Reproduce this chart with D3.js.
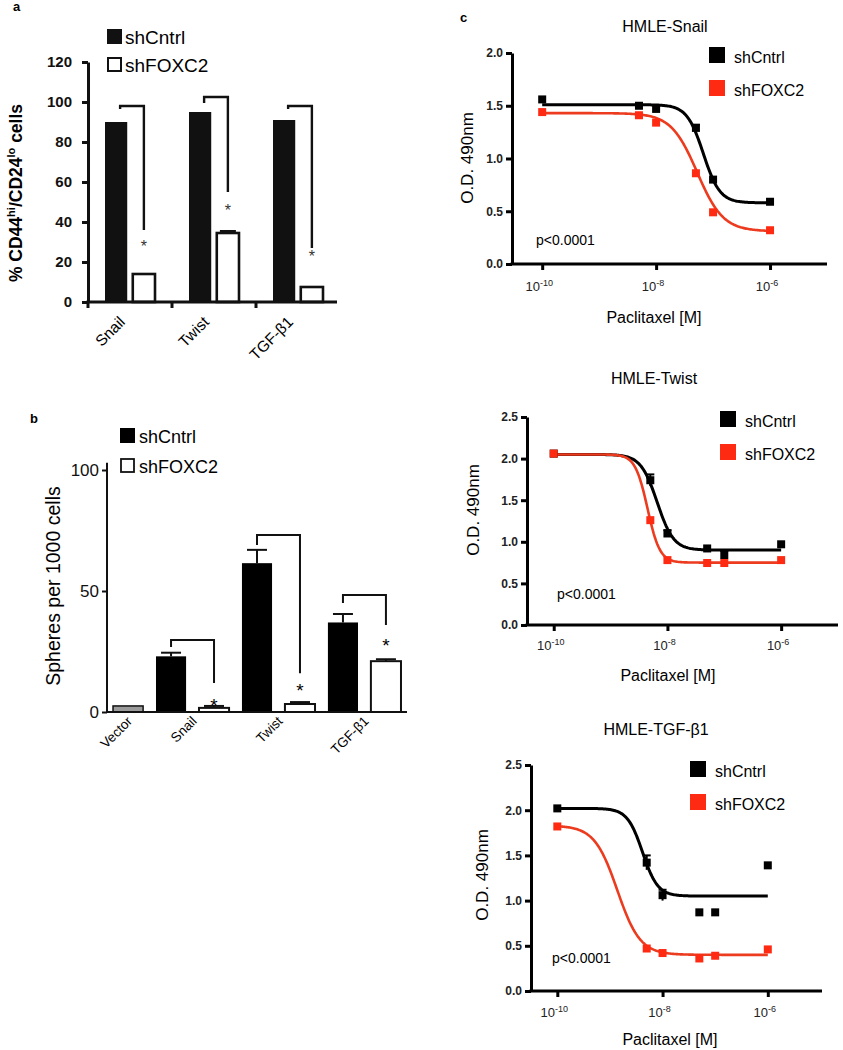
<!DOCTYPE html>
<html><head><meta charset="utf-8">
<script src="https://cdn.jsdelivr.net/npm/d3@7/dist/d3.min.js"></script>
<style>body{margin:0;background:#fff}svg{display:block}</style>
</head><body>
<svg id="fig" width="843" height="1050"></svg>
<script>
// ---------- Panel a data ----------
const aCategories = ['Snail', 'Twist', 'TGF-β1'];
const aSeries = ['shCntrl', 'shFOXC2'];
const aCntrl = [90, 95, 91];
const aFoxc2 = [14, 34.5, 7.5];
const aFoxc2Err = [0, 1, 0];
const aTicks = [0, 20, 40, 60, 80, 100, 120];
const aBracketTop = [98, 102.5, 98];
const aBracketLeftEnd = [96.5, 99.5, 96.5];
const aBracketRightEnd = [36, 55, 27];
const aStarY = [29.5, 47.5, 24.5];

// ---------- Panel b data ----------
const bCategories = ['Vector', 'Snail', 'Twist', 'TGF-β1'];
const bCntrl = [2.5, 23, 61.5, 37];
const bCntrlErr = [0, 1.5, 5.5, 3.5];
const bFoxc2 = [null, 1.7, 3.3, 21];
const bFoxc2Err = [null, 0.8, 0.8, 0.8];
const bTicks = [0, 50, 100];
const bBracketTop = [29.8, 73.1, 48.3];
const bBracketLeftEnd = [26.9, 69, 45];
const bBracketRightEnd = [12, 16, 36];
const bStarY = [4.1, 10.3, 28.9];

// ---------- Panel c data ----------
const cConc = [1e-10, 5e-9, 1e-8, 5e-8, 1e-7, 1e-6];
const cXTicks = [1e-10, 1e-8, 1e-6];
const cXTickExp = ['-10', '-8', '-6'];
const snailCntrl = [1.56, 1.50, 1.47, 1.29, 0.80, 0.59];
const snailFoxc2 = [1.44, 1.41, 1.34, 0.86, 0.49, 0.32];
const twistCntrl = [2.06, 1.74, 1.10, 0.92, 0.84, 0.97];
const twistFoxc2 = [2.06, 1.26, 0.78, 0.745, 0.745, 0.78];
const tgfCntrl = [2.02, 1.42, 1.06, 0.87, 0.87, 1.39];
const tgfFoxc2 = [1.82, 0.47, 0.42, 0.36, 0.39, 0.46];
const snailCntrlErr = [0, 0, 0, 0.03, 0, 0];
const snailFoxc2Err = [0, 0, 0, 0, 0, 0];
const twistCntrlErr = [0, 0.07, 0.04, 0, 0.05, 0];
const twistFoxc2Err = [0, 0, 0, 0, 0, 0];
const tgfCntrlErr = [0, 0.08, 0.06, 0, 0, 0];
const tgfFoxc2Err = [0, 0, 0, 0, 0, 0];
// fitted sigmoid parameters: [top, bottom, logEC50, hill]
const snailFitCntrl = [1.51, 0.58, -7.17, 3.0];
const snailFitFoxc2 = [1.43, 0.31, -7.28, 1.9];
const twistFitCntrl = [2.05, 0.90, -8.18, 3.0];
const twistFitFoxc2 = [2.05, 0.75, -8.35, 4.0];
const tgfFitCntrl = [2.02, 1.05, -8.38, 3.0];
const tgfFitFoxc2 = [1.83, 0.40, -8.86, 2.0];
const cYTicksA = [0, 0.5, 1.0, 1.5, 2.0];
const cYTicksB = [0, 0.5, 1.0, 1.5, 2.0, 2.5];

const FONT = '"Liberation Sans", Arial, sans-serif';
const svg = d3.select('#fig');

function txt(g, x, y, s, size, opts = {}) {
  return g.append('text').attr('x', x).attr('y', y).text(s)
    .attr('font-family', opts.family || FONT).attr('font-size', size)
    .attr('font-weight', opts.weight || 'normal')
    .attr('text-anchor', opts.anchor || 'start')
    .attr('fill', opts.fill || '#000');
}

// ================= PANEL A =================
(function () {
  const g = svg.append('g');
  txt(g, 13, 11, 'a', 13, { weight: 'bold' });
  const y = d3.scaleLinear().domain([0, 120]).range([302, 62]);
  const x = d3.scaleBand().domain(aCategories).range([88, 340]);
  const xi = d3.scaleBand().domain(aSeries).range([17, 67]).paddingInner(0.2);

  aCategories.forEach((c, i) => {
    g.append('rect').attr('x', x(c) + xi('shCntrl')).attr('width', xi.bandwidth())
      .attr('y', y(aCntrl[i])).attr('height', y(0) - y(aCntrl[i])).attr('fill', '#111');
    g.append('rect').attr('x', x(c) + xi('shFOXC2')).attr('width', xi.bandwidth())
      .attr('y', y(aFoxc2[i])).attr('height', y(0) - y(aFoxc2[i]))
      .attr('fill', '#fff').attr('stroke', '#111').attr('stroke-width', 2.6);
    if (aFoxc2Err[i] > 0) {
      const cx = x(c) + xi('shFOXC2') + xi.bandwidth() / 2;
      g.append('line').attr('x1', cx - 8).attr('x2', cx + 8)
        .attr('y1', y(aFoxc2[i] + aFoxc2Err[i])).attr('y2', y(aFoxc2[i] + aFoxc2Err[i]))
        .attr('stroke', '#111').attr('stroke-width', 2);
    }
    const lx = x(c) + xi('shCntrl') + xi.bandwidth() / 2 + 4;
    const rx = x(c) + xi('shFOXC2') + xi.bandwidth() / 2;
    g.append('path').attr('d', `M${lx},${y(aBracketLeftEnd[i])}V${y(aBracketTop[i])}H${rx}V${y(aBracketRightEnd[i])}`)
      .attr('fill', 'none').attr('stroke', '#111').attr('stroke-width', 2.4);
    txt(g, rx, y(aStarY[i]) + 9, '*', 16, { anchor: 'middle', fill: '#333' });
  });

  const ya = g.append('g').attr('transform', 'translate(88,0)')
    .call(d3.axisLeft(y).tickValues(aTicks).tickSize(6).tickSizeOuter(0).tickPadding(10));
  ya.select('.domain').attr('stroke', '#111').attr('stroke-width', 3);
  ya.selectAll('.tick line').attr('stroke', '#111').attr('stroke-width', 3);
  ya.selectAll('.tick text').attr('font-family', FONT).attr('font-size', 15).attr('font-weight', 'bold').attr('fill', '#111');

  g.append('line').attr('x1', 86.5).attr('x2', 337).attr('y1', y(0)).attr('y2', y(0))
    .attr('stroke', '#111').attr('stroke-width', 3);
  aCategories.forEach(c => {
    g.append('line').attr('x1', x(c)).attr('x2', x(c)).attr('y1', y(0)).attr('y2', y(0) + 6)
      .attr('stroke', '#111').attr('stroke-width', 3);
    const cx = x(c) + x.bandwidth() / 2 - 4;
    txt(g, 0, 0, c, 15.5, { anchor: 'end' }).attr('transform', `translate(${cx},323) rotate(-45)`);
  });

  const t = g.append('text').attr('transform', 'translate(22,193) rotate(-90)')
    .attr('text-anchor', 'middle').attr('font-family', FONT).attr('font-size', 17.5).attr('font-weight', 'bold');
  t.append('tspan').text('% CD44');
  t.append('tspan').text('hi').attr('font-size', 11).attr('dy', -7);
  t.append('tspan').text('/CD24').attr('dy', 7);
  t.append('tspan').text('lo').attr('font-size', 11).attr('dy', -7);
  t.append('tspan').text(' cells').attr('dy', 7);

  g.append('rect').attr('x', 107).attr('y', 29).attr('width', 15).attr('height', 15).attr('fill', '#111');
  txt(g, 125, 44, aSeries[0], 19);
  g.append('rect').attr('x', 108).attr('y', 58).attr('width', 13).attr('height', 13)
    .attr('fill', '#fff').attr('stroke', '#111').attr('stroke-width', 2);
  txt(g, 125, 72, aSeries[1], 19);
})();

// ================= PANEL B =================
(function () {
  const g = svg.append('g');
  txt(g, 30, 423, 'b', 13, { weight: 'bold' });
  const y = d3.scaleLinear().domain([0, 100]).range([712, 470]);
  const keys = [];
  bCategories.forEach((c, i) => {
    keys.push(c + '|shCntrl');
    if (bFoxc2[i] !== null) keys.push(c + '|shFOXC2');
  });
  const x = d3.scaleBand().domain(keys).range([107, 407]).paddingInner(0.3).paddingOuter(0.14);
  const bw = x.bandwidth();

  bCategories.forEach((c, i) => {
    const kc = c + '|shCntrl';
    if (bCntrlErr[i] > 0) {
      const cx = x(kc) + bw / 2;
      g.append('line').attr('x1', cx).attr('x2', cx).attr('y1', y(bCntrl[i])).attr('y2', y(bCntrl[i] + bCntrlErr[i]))
        .attr('stroke', '#111').attr('stroke-width', 2);
      g.append('line').attr('x1', cx - 10).attr('x2', cx + 10).attr('y1', y(bCntrl[i] + bCntrlErr[i])).attr('y2', y(bCntrl[i] + bCntrlErr[i]))
        .attr('stroke', '#111').attr('stroke-width', 2);
    }
    const isVector = bFoxc2[i] === null;
    g.append('rect').attr('x', x(kc)).attr('width', bw).attr('y', y(bCntrl[i])).attr('height', y(0) - y(bCntrl[i]))
      .attr('fill', isVector ? '#9b9b9b' : '#000').attr('stroke', '#111').attr('stroke-width', isVector ? 1.5 : 0);
    let center = x(kc) + bw / 2;
    if (!isVector) {
      const kf = c + '|shFOXC2';
      const cx = x(kf) + bw / 2;
      const top = bFoxc2[i] + bFoxc2Err[i];
      g.append('line').attr('x1', cx - 10).attr('x2', cx + 10).attr('y1', y(top)).attr('y2', y(top))
        .attr('stroke', '#111').attr('stroke-width', 2);
      g.append('line').attr('x1', cx).attr('x2', cx).attr('y1', y(bFoxc2[i])).attr('y2', y(top))
        .attr('stroke', '#111').attr('stroke-width', 2);
      g.append('rect').attr('x', x(kf)).attr('width', bw).attr('y', y(bFoxc2[i])).attr('height', y(0) - y(bFoxc2[i]))
        .attr('fill', '#fff').attr('stroke', '#111').attr('stroke-width', 2);
      center = (x(kc) + x(kf) + bw) / 2;
      const j = i - 1;
      const lx = x(kc) + bw / 2;
      g.append('path').attr('d', `M${lx},${y(bBracketLeftEnd[j])}V${y(bBracketTop[j])}H${cx}V${y(bBracketRightEnd[j])}`)
        .attr('fill', 'none').attr('stroke', '#111').attr('stroke-width', 2);
      txt(g, cx, y(bStarY[j]) + 10, '*', 19, { anchor: 'middle' });
    }
    txt(g, 0, 0, c, 13.5, { anchor: 'end' }).attr('transform', `translate(${center + 5},722) rotate(-45)`);
  });

  const ya = g.append('g').attr('transform', 'translate(107,0)')
    .call(d3.axisLeft(y).tickValues(bTicks).tickSize(5).tickSizeOuter(0).tickPadding(3));
  ya.select('.domain').remove();
  ya.selectAll('.tick line').attr('stroke', '#111').attr('stroke-width', 2);
  ya.selectAll('.tick text').attr('font-family', FONT).attr('font-size', 17).attr('fill', '#111');
  g.append('line').attr('x1', 107).attr('x2', 107).attr('y1', y(0) + 1).attr('y2', y(103)).attr('stroke', '#111').attr('stroke-width', 2);
  g.append('line').attr('x1', 106).attr('x2', 407).attr('y1', y(0)).attr('y2', y(0)).attr('stroke', '#111').attr('stroke-width', 2);

  g.append('text').attr('transform', 'translate(60,586) rotate(-90)').attr('text-anchor', 'middle')
    .attr('font-family', FONT).attr('font-size', 19.5).text('Spheres per 1000 cells');

  g.append('rect').attr('x', 120).attr('y', 428).attr('width', 15).attr('height', 15).attr('fill', '#000');
  txt(g, 139, 443, 'shCntrl', 18);
  g.append('rect').attr('x', 121).attr('y', 459).attr('width', 13).attr('height', 13)
    .attr('fill', '#fff').attr('stroke', '#111').attr('stroke-width', 1.8);
  txt(g, 139, 473, 'shFOXC2', 18);
})();

// ================= PANEL C =================
txt(svg, 460, 22, 'c', 13, { weight: 'bold' });

function dosePanel(o) {
  const g = svg.append('g');
  const x = d3.scaleLog().domain(o.xDomain).range(o.xRange);
  const y = d3.scaleLinear().domain(o.yDomain).range(o.yRange);
  const fit = (p, lx) => p[1] + (p[0] - p[1]) / (1 + Math.pow(10, p[3] * (lx - p[2])));
  const logs = d3.range(-10, -5.999, 0.02);
  const line = d3.line().x(d => x(Math.pow(10, d[0]))).y(d => y(d[1]));

  txt(g, o.titleX, o.titleY, o.title, 16, { anchor: 'middle' });

  const series = [
    { vals: o.cntrl, err: o.cntrlErr, fit: o.fitC, color: '#000', line: '#000', lw: 3 },
    { vals: o.foxc2, err: o.foxc2Err, fit: o.fitF, color: '#ff2a12', line: '#ec3b1e', lw: 2.6 }
  ];
  series.forEach(s => {
    g.append('path').datum(logs.map(l => [l, fit(s.fit, l)])).attr('d', line)
      .attr('fill', 'none').attr('stroke', s.line).attr('stroke-width', s.lw);
  });
  series.forEach(s => {
    cConc.forEach((c, i) => {
      if (s.err[i] > 0) {
        g.append('line').attr('x1', x(c)).attr('x2', x(c)).attr('y1', y(s.vals[i] - s.err[i])).attr('y2', y(s.vals[i] + s.err[i]))
          .attr('stroke', s.color).attr('stroke-width', 2);
        g.append('line').attr('x1', x(c) - 4).attr('x2', x(c) + 4).attr('y1', y(s.vals[i] + s.err[i])).attr('y2', y(s.vals[i] + s.err[i]))
          .attr('stroke', s.color).attr('stroke-width', 2);
      }
    });
    g.selectAll(null).data(cConc).enter().append('rect')
      .attr('x', d => x(d) - 4).attr('y', (d, i) => y(s.vals[i]) - 4)
      .attr('width', 8).attr('height', 8).attr('fill', s.color);
  });

  const ya = g.append('g').attr('transform', `translate(${o.xRange[0]},0)`)
    .call(d3.axisLeft(y).tickValues(o.yTicks).tickFormat(d3.format('.1f')).tickSize(6).tickSizeOuter(0).tickPadding(3));
  ya.select('.domain').attr('stroke', '#000').attr('stroke-width', 3);
  ya.selectAll('.tick line').attr('stroke', '#000').attr('stroke-width', 3);
  ya.selectAll('.tick text').attr('font-family', FONT).attr('font-size', 12).attr('font-weight', 'bold').attr('fill', '#222');

  const xa = g.append('g').attr('transform', `translate(0,${o.yRange[0]})`)
    .call(d3.axisBottom(x).tickValues(cXTicks).tickSize(6).tickSizeOuter(0).tickFormat(() => ''));
  xa.select('.domain').attr('stroke', '#000').attr('stroke-width', 3)
    .attr('d', `M${o.xRange[0] - 1.5},0H${o.xRange[1]}`);
  xa.selectAll('.tick line').attr('stroke', '#000').attr('stroke-width', 3);
  cXTicks.forEach((t, i) => {
    const tt = g.append('text').attr('x', x(t) - 3).attr('y', o.yRange[0] + o.xLabelOff)
      .attr('text-anchor', 'middle').attr('font-family', FONT).attr('font-size', 13).attr('fill', '#222');
    tt.append('tspan').text('10');
    tt.append('tspan').text(cXTickExp[i]).attr('font-size', 9).attr('dy', -5);
  });

  g.append('text').attr('transform', `translate(${o.yTitleX},${o.yTitleY}) rotate(-90)`).attr('text-anchor', 'middle')
    .attr('font-family', FONT).attr('font-size', 17).text('O.D. 490nm');
  txt(g, o.xTitleX, o.xTitleY, 'Paclitaxel [M]', 16, { anchor: 'middle' });
  txt(g, o.pX, o.pY, 'p<0.0001', 14);

  g.append('rect').attr('x', o.legX).attr('y', o.legY).attr('width', 16).attr('height', 16).attr('fill', '#000');
  txt(g, o.legX + 25, o.legY + 16, 'shCntrl', 16);
  g.append('rect').attr('x', o.legX).attr('y', o.legY + 33).attr('width', 16).attr('height', 16).attr('fill', '#ff2a12');
  txt(g, o.legX + 25, o.legY + 49, 'shFOXC2', 16);
}

dosePanel({
  title: 'HMLE-Snail', titleX: 665, titleY: 32,
  xDomain: [Math.pow(10, -10.53), 1e-5], xRange: [512, 827],
  yDomain: [0, 2], yRange: [264, 53], yTicks: cYTicksA,
  cntrl: snailCntrl, foxc2: snailFoxc2, cntrlErr: snailCntrlErr, foxc2Err: snailFoxc2Err,
  fitC: snailFitCntrl, fitF: snailFitFoxc2,
  xLabelOff: 27, yTitleX: 473, yTitleY: 158, xTitleX: 654, xTitleY: 323,
  pX: 536, pY: 245, legX: 709, legY: 47
});
dosePanel({
  title: 'HMLE-Twist', titleX: 654, titleY: 384,
  xDomain: [Math.pow(10, -10.47), 1e-5], xRange: [527, 838],
  yDomain: [0, 2.5], yRange: [625, 417], yTicks: cYTicksB,
  cntrl: twistCntrl, foxc2: twistFoxc2, cntrlErr: twistCntrlErr, foxc2Err: twistFoxc2Err,
  fitC: twistFitCntrl, fitF: twistFitFoxc2,
  xLabelOff: 25, yTitleX: 479, yTitleY: 510, xTitleX: 668, xTitleY: 681,
  pX: 557, pY: 599, legX: 720, legY: 411
});
dosePanel({
  title: 'HMLE-TGF-β1', titleX: 656, titleY: 735,
  xDomain: [Math.pow(10, -10.5), Math.pow(10, -4.97)], xRange: [531, 822],
  yDomain: [0, 2.5], yRange: [991, 765], yTicks: cYTicksB,
  cntrl: tgfCntrl, foxc2: tgfFoxc2, cntrlErr: tgfCntrlErr, foxc2Err: tgfFoxc2Err,
  fitC: tgfFitCntrl, fitF: tgfFitFoxc2,
  xLabelOff: 26, yTitleX: 488, yTitleY: 875, xTitleX: 670, xTitleY: 1045,
  pX: 552, pY: 963, legX: 690, legY: 761
});
</script>
</body></html>
